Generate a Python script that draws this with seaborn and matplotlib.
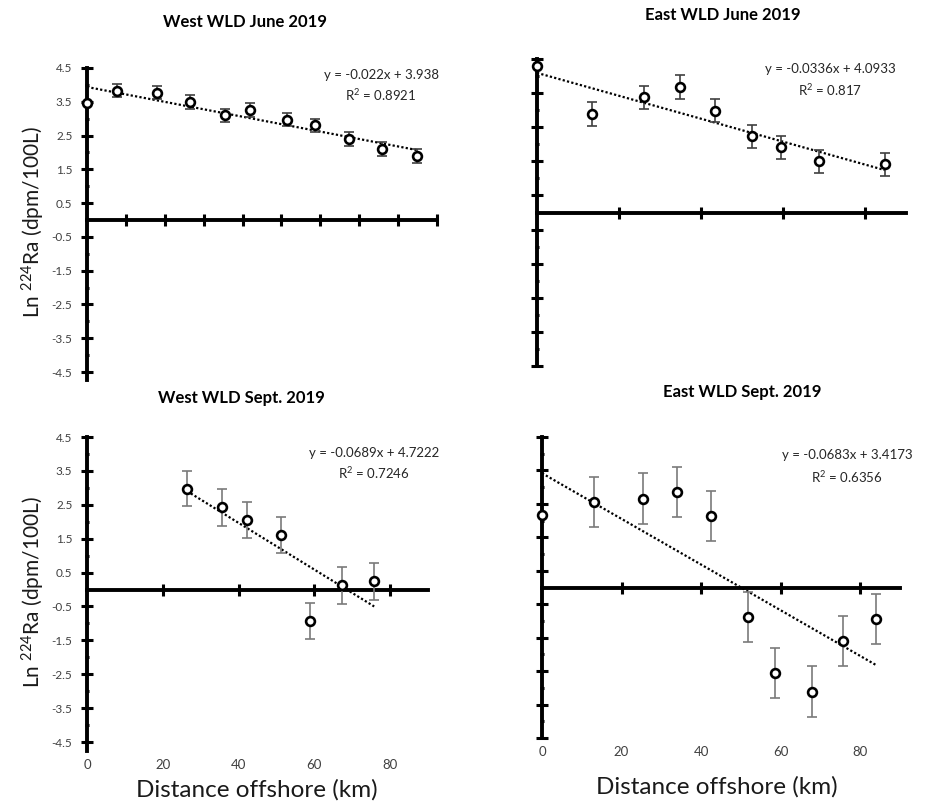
import numpy as np
import pandas as pd
import matplotlib
matplotlib.use("Agg")
import matplotlib.pyplot as plt
import seaborn as sns
from matplotlib.ticker import FixedLocator

# ---------------- data ----------------
titles = ["West WLD June 2019", "East WLD June 2019",
          "West WLD Sept. 2019", "East WLD Sept. 2019"]

west_june_x = [0, 7.7, 18, 26.5, 35.5, 42, 51.5, 58.7, 67.3, 75.8, 84.9]
west_june_y = [3.47, 3.83, 3.77, 3.49, 3.10, 3.26, 2.97, 2.80, 2.40, 2.10, 1.90]
west_june_err = [0, 0.2, 0.2, 0.2, 0.2, 0.2, 0.2, 0.2, 0.2, 0.2, 0.2]

east_june_x = [0, 13.4, 26.2, 34.8, 43.5, 52.5, 59.5, 68.7, 84.9]
east_june_y = [4.30, 2.89, 3.38, 3.68, 2.99, 2.23, 1.91, 1.50, 1.41]
east_june_err = [0, 0.34, 0.34, 0.34, 0.34, 0.34, 0.34, 0.34, 0.34]

west_sept_x = [26.4, 35.7, 42.2, 51.3, 58.8, 67.4, 75.8]
west_sept_y = [2.98, 2.42, 2.06, 1.62, -0.94, 0.12, 0.24]
west_sept_err = [0.53, 0.54, 0.53, 0.53, 0.53, 0.54, 0.55]

east_sept_x = [0, 13.0, 25.5, 34.0, 42.6, 51.8, 58.5, 67.8, 75.6, 84.0]
east_sept_y = [2.18, 2.56, 2.66, 2.86, 2.15, -0.89, -2.56, -3.11, -1.60, -0.93]
east_sept_err = [0, 0.75, 0.75, 0.75, 0.75, 0.75, 0.75, 0.75, 0.75, 0.75]

slopes = [-0.022, -0.0336, -0.0689, -0.0683]
intercepts = [3.938, 4.0933, 4.7222, 3.4173]
slope_labels = ["-0.022", "-0.0336", "-0.0689", "-0.0683"]
intercept_labels = ["3.938", "4.0933", "4.7222", "3.4173"]
r2_labels = ["0.8921", "0.817", "0.7246", "0.6356"]

y_major = [4.5, 3.5, 2.5, 1.5, 0.5, -0.5, -1.5, -2.5, -3.5, -4.5]
y_minor = [4, 3, 2, 1, -1, -2, -3, -4]
x_tick_labels = [0, 20, 40, 60, 80]

# ---------------- style ----------------
sns.set_style("white")
plt.rcParams['font.family'] = ['Lato', 'DejaVu Sans']
plt.rcParams['mathtext.default'] = 'regular'

W, H = 930, 807
fig = plt.figure(figsize=(W / 100, H / 100), dpi=100)


def fx(px):
    return px / W


def fy(py):
    return 1 - py / H


def make_axes(left, right, top, bottom):
    return fig.add_axes([fx(left), fy(bottom), fx(right) - fx(left), (bottom - top) / H])


# pixel boxes (left, right, top, bottom), ylims
boxes = [(87, 437, 68, 380.5), (537, 906, 59, 366),
         (87, 428, 437, 750.5), (542, 900, 437, 738)]
ylims = [(-4.75, 4.5), (-4.5, 4.5), (-4.75, 4.5), (-4.5, 4.5)]
x_major = [list(range(10, 91, 10)), [20, 40, 60, 80], [20, 40, 60, 80], [20, 40, 60, 80]]

datasets = [
    (west_june_x, west_june_y, west_june_err),
    (east_june_x, east_june_y, east_june_err),
    (west_sept_x, west_sept_y, west_sept_err),
    (east_sept_x, east_sept_y, east_sept_err),
]

eq_pos = [(381, 75, 95), (830, 69, 90), (374, 453, 473), (847, 455, 477)]
title_pos = [(245, 22), (723, 15), (241, 398), (742, 392)]
err_colors = ['#404040', '#404040', '#7a7a7a', '#7a7a7a']

for i, (box, (xs, ys, es)) in enumerate(zip(boxes, datasets)):
    ax = make_axes(*box)
    df = pd.DataFrame({"x": xs, "y": ys, "err": es})

    # trendline from displayed equation
    tx = np.array([min(xs), max(xs)])
    tl = pd.DataFrame({"x": tx, "y": slopes[i] * tx + intercepts[i]})
    sns.lineplot(data=tl, x="x", y="y", ax=ax, color="black",
                 linestyle=(0, (1, 1)), linewidth=1.6, zorder=2)

    ax.errorbar(df["x"], df["y"], yerr=df["err"], fmt="none",
                ecolor=err_colors[i], elinewidth=1.2, capsize=3.5,
                capthick=1.2, zorder=3, clip_on=False)
    sns.scatterplot(data=df, x="x", y="y", ax=ax, marker="o", s=40,
                    facecolor="white", edgecolor="black", linewidth=1.9,
                    zorder=4, clip_on=False)

    ax.set_xlim(0, 90)
    ax.set_ylim(*ylims[i])
    ax.set_xlabel("")
    ax.set_ylabel("")

    for s in ["top", "right"]:
        ax.spines[s].set_visible(False)
    ax.spines["left"].set_linewidth(2.8)
    ax.spines["left"].set_color("black")
    ax.spines["bottom"].set_position(("data", 0))
    ax.spines["bottom"].set_linewidth(2.8)
    ax.spines["bottom"].set_color("black")

    ax.yaxis.set_major_locator(FixedLocator(y_major))
    ax.yaxis.set_minor_locator(FixedLocator(y_minor))
    ax.xaxis.set_major_locator(FixedLocator(x_major[i]))
    ax.tick_params(axis="y", which="major", direction="inout", length=9,
                   width=2.2, color="black", left=True, pad=6,
                   labelsize=8.5, labelcolor="#404040", labelleft=(i % 2 == 0))
    ax.tick_params(axis="y", which="minor", direction="inout", length=3.5,
                   width=2.2, color="black", left=True)
    ax.tick_params(axis="x", which="major", direction="inout", length=9,
                   width=2.2, color="black", bottom=True, labelbottom=False)
    if i % 2 == 0:
        ax.set_yticklabels([f"{v:.1f}" for v in y_major])

    if i >= 2:
        sec = ax.secondary_xaxis("bottom")
        sec.spines["bottom"].set_visible(False)
        sec.xaxis.set_major_locator(FixedLocator(x_tick_labels))
        sec.tick_params(axis="x", length=0, pad=6, labelsize=9.5,
                        labelcolor="#404040")
        sec.set_xticklabels([str(v) for v in x_tick_labels])

    ex, ey1, ey2 = eq_pos[i]
    fig.text(fx(ex), fy(ey1), f"y = {slope_labels[i]}x + {intercept_labels[i]}",
             ha="center", va="center", fontsize=9.5, color="#262626")
    fig.text(fx(ex), fy(ey2), f"R$^2$ = {r2_labels[i]}",
             ha="center", va="center", fontsize=9.5, color="#262626")

    tx_, ty_ = title_pos[i]
    fig.text(fx(tx_), fy(ty_), titles[i], ha="center", va="center",
             fontsize=12, fontweight="bold", color="black")

# axis labels
ylab = "Ln $^{224}$Ra (dpm/100L)"
fig.text(fx(33), fy(222), ylab, rotation=90, ha="center", va="center",
         fontsize=15, color="#1a1a1a")
fig.text(fx(33), fy(592), ylab, rotation=90, ha="center", va="center",
         fontsize=15, color="#1a1a1a")
fig.text(fx(257), fy(790), "Distance offshore (km)", ha="center", va="center",
         fontsize=17.5, color="#1a1a1a")
fig.text(fx(717), fy(787), "Distance offshore (km)", ha="center", va="center",
         fontsize=17.5, color="#1a1a1a")

fig.savefig("out.png", dpi=100)
